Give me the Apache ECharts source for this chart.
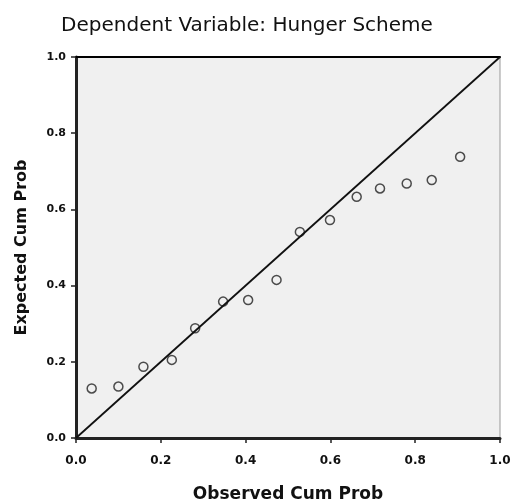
<!DOCTYPE html>
<html><head><meta charset="utf-8">
<script src="https://cdn.jsdelivr.net/npm/echarts@6/dist/echarts.min.js"></script>
<style>html,body{margin:0;padding:0;background:#fff}#c{width:512px;height:504px}</style>
</head><body><div id="c"></div>
<script>
var observed = [0.037, 0.100, 0.159, 0.226, 0.281, 0.347, 0.406, 0.473, 0.528, 0.599, 0.662, 0.717, 0.780, 0.839, 0.906];
var expected = [0.130, 0.135, 0.187, 0.205, 0.288, 0.358, 0.362, 0.415, 0.541, 0.572, 0.633, 0.655, 0.668, 0.677, 0.738];
var refLine = [[0, 0], [1, 1]];
var tickLabels = ['0.0', '0.2', '0.4', '0.6', '0.8', '1.0'];

var pts = observed.map(function (x, i) { return [x, expected[i]]; });
var chart = echarts.init(document.getElementById('c'), null, {renderer: 'canvas'});
var fmt = function (v) { return tickLabels[Math.round(v * 5)]; };
chart.setOption({
  animation: false,
  backgroundColor: '#fff',
  title: {
    text: 'Dependent Variable: Hunger Scheme',
    left: 242, top: 11, textAlign: 'center',
    textStyle: {fontFamily: 'DejaVu Sans', fontSize: 20, fontWeight: 'normal', color: '#111'}
  },
  grid: {left: 76, right: 12, top: 57, bottom: 66, outerBoundsMode: 'none', containLabel: false,
         show: true, backgroundColor: '#f0f0f0', borderColor: '#999', borderWidth: 1},
  xAxis: [{
    type: 'value', min: 0, max: 1, interval: 0.2, position: 'bottom',
    name: 'Observed Cum Prob', nameLocation: 'middle', nameGap: 48,
    nameTextStyle: {fontFamily: 'DejaVu Sans', fontSize: 17, fontWeight: 'bold', color: '#111'},
    axisLine: {show: true, onZero: false, lineStyle: {color: '#222', width: 3}},
    axisTick: {show: true, length: 5, lineStyle: {color: '#222', width: 1.5}},
    axisLabel: {formatter: fmt, fontFamily: 'DejaVu Sans', fontSize: 12, fontWeight: 'bold', color: '#111', margin: 17},
    splitLine: {show: false}
  }, {
    type: 'value', min: 0, max: 1, position: 'top',
    axisLine: {show: true, onZero: false, lineStyle: {color: '#000', width: 2}},
    axisTick: {show: false}, axisLabel: {show: false}, splitLine: {show: false}
  }],
  yAxis: {
    type: 'value', min: 0, max: 1, interval: 0.2,
    name: 'Expected Cum Prob', nameLocation: 'middle', nameGap: 46,
    nameTextStyle: {fontFamily: 'DejaVu Sans', fontSize: 16, fontWeight: 'bold', color: '#111'},
    axisLine: {show: true, onZero: false, lineStyle: {color: '#222', width: 3}},
    axisTick: {show: true, length: 5, lineStyle: {color: '#222', width: 1.5}},
    axisLabel: {formatter: fmt, fontFamily: 'DejaVu Sans', fontSize: 11, fontWeight: 'bold', color: '#111', margin: 10},
    splitLine: {show: false}
  },
  series: [{
    type: 'line', data: refLine, symbol: 'none', silent: true,
    lineStyle: {color: '#111', width: 1.8}
  }, {
    type: 'scatter', data: pts, symbol: 'circle', symbolSize: 9,
    itemStyle: {color: 'rgba(0,0,0,0)', borderColor: '#222', borderWidth: 1.5}
  }]
});
</script></body></html>
